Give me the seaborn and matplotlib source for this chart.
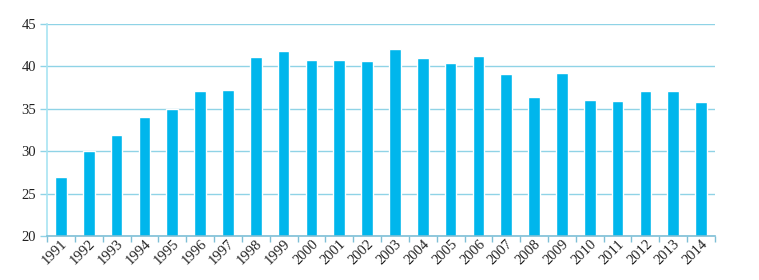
import matplotlib
matplotlib.use("Agg")
import matplotlib.pyplot as plt
import seaborn as sns
import pandas as pd
import numpy as np

years = [str(y) for y in range(1991, 2015)]
values = [27.0, 30.0, 31.95, 34.0, 35.0, 37.15, 37.25, 41.1, 41.85, 40.75, 40.75, 40.65,
          42.1, 41.0, 40.35, 41.25, 39.05, 36.45, 39.25, 36.05, 35.95, 37.15, 37.15, 35.75]
yticks = [20, 25, 30, 35, 40, 45]

sns.set_theme(style="white")
plt.rcParams['font.family'] = ['Liberation Serif', 'DejaVu Serif']

df = pd.DataFrame({"year": years, "value": values})

fig = plt.figure(figsize=(7.59, 2.80), dpi=100)
ax = fig.add_axes([47/759, 44/280, (715-47)/759, (236-24)/280])
sns.barplot(data=df, x="year", y="value", color="#00b6ec", saturation=1,
            width=0.42, ax=ax, zorder=3)
ax.set_ylim(20, 45)
ax.set_xlim(-0.5, len(years) - 0.5)
ax.set_yticks(yticks)
ax.set_yticklabels([str(t) for t in yticks], fontsize=10.5, color="#222222")
ax.set_xlabel("")
ax.set_ylabel("")
for t in yticks:
    ax.axhline(t, color="#8fd3e6", lw=1.0, zorder=1)
ax.tick_params(axis="y", length=5, width=1, color="#8fd3e6", pad=3, direction="out", left=True)
ax.tick_params(axis="x", which="major", length=0, pad=1)
ax.set_xticks(np.arange(-0.5, len(years), 1.0), minor=True)
ax.tick_params(axis="x", which="minor", length=4, width=1, color="#7fbfd6", direction="out", bottom=True)
for lbl in ax.get_xticklabels():
    lbl.set_rotation(45)
    lbl.set_ha("right")
    lbl.set_rotation_mode("anchor")
    lbl.set_fontsize(10.5)
    lbl.set_color("#222222")
for s in ["top", "right"]:
    ax.spines[s].set_visible(False)
ax.spines["left"].set_color("#a8e4f2")
ax.spines["left"].set_linewidth(1.2)
ax.spines["bottom"].set_color("#7fbfd6")
ax.spines["bottom"].set_linewidth(1.2)
ax.spines["bottom"].set_zorder(4)

fig.savefig("out.png", dpi=100)
